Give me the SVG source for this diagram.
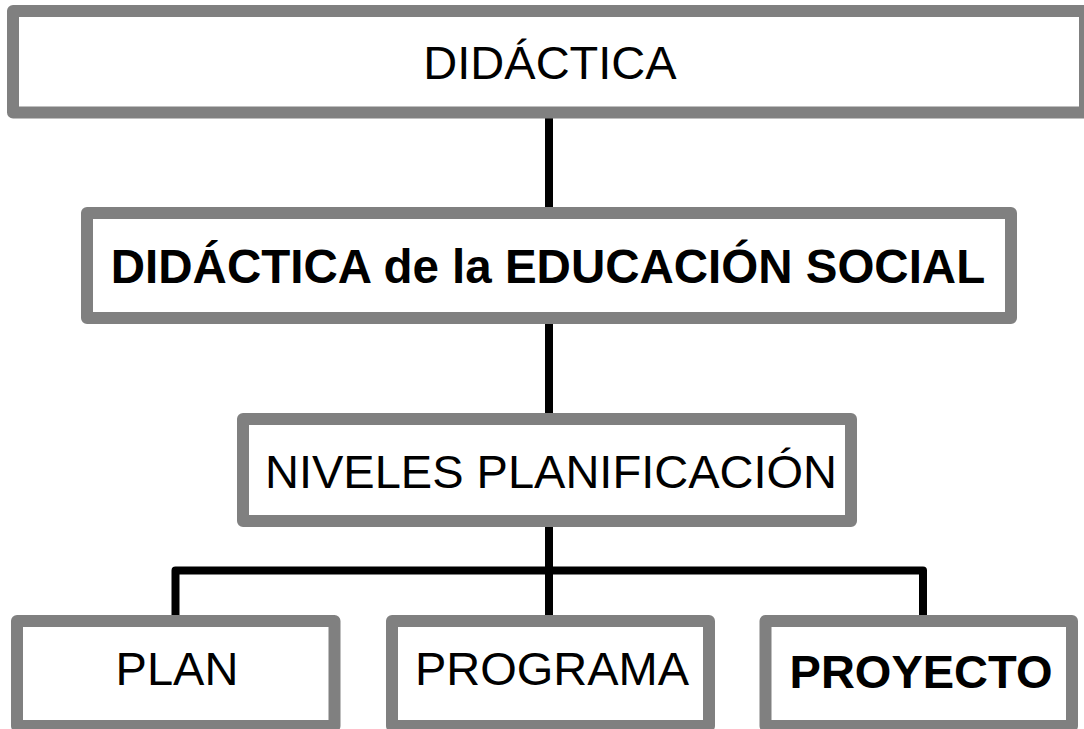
<svg xmlns="http://www.w3.org/2000/svg" width="1084" height="729" viewBox="0 0 1084 729">
<style>
.box{fill:#ffffff;stroke:#808080;stroke-width:12;stroke-linejoin:round}
.conn{fill:none;stroke:#000000;stroke-width:8;stroke-linejoin:round}
.t{font-family:"Liberation Sans",Arial,sans-serif;font-size:47px;fill:#000000;text-anchor:middle}
.b{font-weight:bold}
</style>
<rect x="0" y="0" width="1084" height="729" fill="#ffffff"/>
<g id="connectors">
<path class="conn" d="M549 118 V207"/>
<path class="conn" d="M549 324 V413"/>
<path class="conn" d="M549 527 V615"/>
<path class="conn" d="M175.5 615 V570.5 H923 V615"/>
</g>
<g id="node-didactica">
<rect class="box" x="13" y="11" width="1072" height="101.5"/>
<text class="t" x="550" y="79">DIDÁCTICA</text>
</g>
<g id="node-didactica-es">
<rect class="box" x="87" y="213" width="924" height="105"/>
<text class="t b" x="548" y="283" style="font-size:47.5px">DIDÁCTICA de la EDUCACIÓN SOCIAL</text>
</g>
<g id="node-niveles">
<rect class="box" x="243" y="419" width="608" height="102"/>
<text class="t" x="551" y="488">NIVELES PLANIFICACIÓN</text>
</g>
<g id="node-plan">
<rect class="box" x="17" y="621" width="317.5" height="105"/>
<text class="t" x="177" y="685">PLAN</text>
</g>
<g id="node-programa">
<rect class="box" x="392" y="621" width="317" height="105"/>
<text class="t" x="552" y="685">PROGRAMA</text>
</g>
<g id="node-proyecto">
<rect class="box" x="765.5" y="621" width="306.5" height="105"/>
<text class="t b" x="921" y="688">PROYECTO</text>
</g>
</svg>
